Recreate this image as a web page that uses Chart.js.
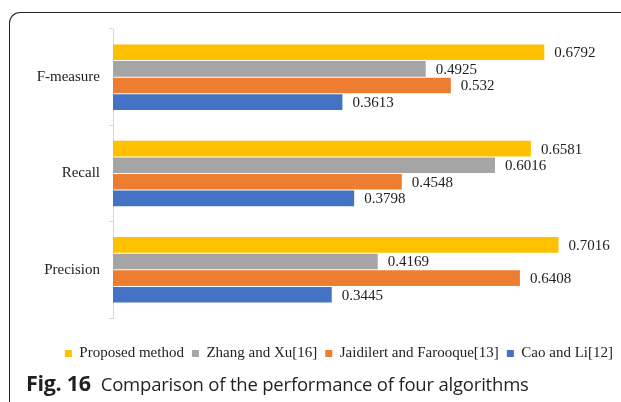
<!DOCTYPE html>
<html>
<head>
<meta charset="utf-8">
<script src="https://cdn.jsdelivr.net/npm/chart.js@4.4.1/dist/chart.umd.min.js"></script>
<style>
  html, body { margin: 0; padding: 0; background: #fff; }
  body { width: 621px; height: 402px; position: relative; overflow: hidden; }
  .frame {
    position: absolute; left: 9px; top: 12px; width: 700px; height: 500px;
    border-top: 1px solid #222; border-left: 1px solid #222;
    border-top-left-radius: 11px;
  }
  .wrap { position: absolute; left: 0; top: 0; width: 621px; height: 371px; }
  .caption {
    position: absolute; left: 26px; top: 368px;
    font-family: "Open Sans", sans-serif; font-size: 18.5px; color: #231f20;
    white-space: nowrap; letter-spacing: -0.2px;
  }
  .caption b { font-size: 21.5px; font-weight: 700; margin-right: 10px; letter-spacing: -0.3px; }
</style>
</head>
<body>
<div class="frame"></div>
<div class="wrap"><canvas id="perfChart"></canvas></div>
<div class="caption"><b>Fig. 16</b>Comparison of the performance of four algorithms</div>
<script>
const metrics = ['F-measure', 'Recall', 'Precision']
const seriesNames = ['Proposed method', 'Zhang and Xu[16]', 'Jaidilert and Farooque[13]', 'Cao and Li[12]']
const proposed = [0.6792, 0.6581, 0.7016]
const zhangXu = [0.4925, 0.6016, 0.4169]
const jaidilert = [0.532, 0.4548, 0.6408]
const caoLi = [0.3613, 0.3798, 0.3445]
const colors = ['#FFC000', '#A5A5A5', '#ED7D31', '#4472C4']

const serif = '"Liberation Serif", "Times New Roman", serif'

// writes each bar's value just past its end
const valueLabels = {
  id: 'valueLabels',
  afterDatasetsDraw(chart) {
    const { ctx } = chart
    ctx.save()
    ctx.font = '15px ' + serif
    ctx.fillStyle = '#222'
    ctx.textAlign = 'left'
    ctx.textBaseline = 'middle'
    chart.data.datasets.forEach((ds, i) => {
      chart.getDatasetMeta(i).data.forEach((bar, j) => {
        ctx.fillText(String(ds.data[j]), bar.x + 10, bar.y + 1)
      })
    })
    ctx.restore()
  }
}

const allSeries = [proposed, zhangXu, jaidilert, caoLi]

new Chart(document.getElementById('perfChart'), {
  type: 'bar',
  data: {
    labels: metrics,
    datasets: allSeries.map((values, i) => ({
      label: seriesNames[i],
      data: values,
      backgroundColor: colors[i],
      borderWidth: 0,
      categoryPercentage: 0.69,
      barPercentage: 0.94
    }))
  },
  options: {
    indexAxis: 'y',
    responsive: true,
    maintainAspectRatio: false,
    animation: false,
    layout: { padding: { top: 29, left: 0, right: 0, bottom: 0 } },
    scales: {
      x: {
        min: 0,
        max: 0.8,
        ticks: { display: false },
        grid: { display: false },
        border: { display: false },
        afterFit: s => { s.height = 20 }
      },
      y: {
        ticks: { font: { family: serif, size: 15 }, color: '#222', padding: 9 },
        grid: { drawOnChartArea: false, color: '#d9d9d9', tickLength: 4 },
        border: { color: '#d9d9d9' },
        afterFit: s => { s.width = 113 }
      }
    },
    plugins: {
      legend: {
        position: 'bottom',
        align: 'end',
        labels: {
          boxWidth: 7,
          boxHeight: 7,
          padding: 8,
          color: '#222',
          font: { family: serif, size: 15 }
        }
      },
      tooltip: { enabled: false }
    }
  },
  plugins: [valueLabels]
})
</script>
</body>
</html>
